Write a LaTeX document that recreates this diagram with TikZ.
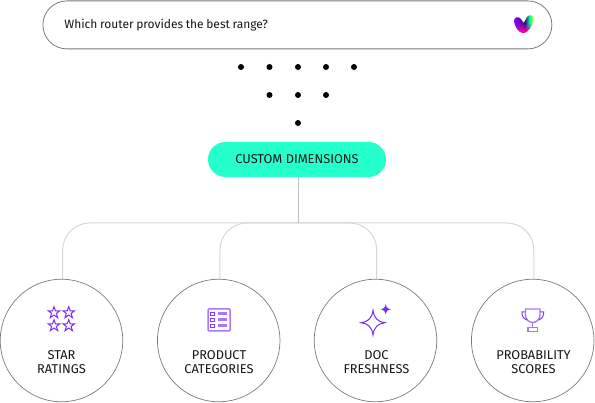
\documentclass[tikz,border=0pt]{standalone}
\usepackage{fontspec}
\setmainfont{Fira Sans}
\definecolor{violet}{HTML}{7A2BFF}
\definecolor{violetlt}{HTML}{A877FF}
\definecolor{mint}{HTML}{24FFCB}
\definecolor{ring}{HTML}{7A7A7A}
\definecolor{wire}{HTML}{D6D6D6}
\definecolor{ink}{HTML}{161616}
\definecolor{logoa}{HTML}{8A00FF}
\definecolor{logob}{HTML}{30107A}
\definecolor{logoc}{HTML}{E0F000}
\definecolor{logom}{HTML}{FF00B0}
\newcommand\tightwords{\spaceskip=2.6pt plus 1pt\relax}
\tikzset{
  query/.style={draw=ring,line width=.8pt,rounded corners=24pt,minimum height=48pt,text width=466pt,inner xsep=21.5pt,inner ysep=0pt,align=left,font=\fontsize{12}{14}\selectfont,text=ink,anchor=north west},
  hub/.style={fill=mint,rounded corners=17.5pt,minimum width=178pt,minimum height=35pt,inner sep=0pt,font=\fontsize{12.8}{14}\selectfont,text=ink},
  ball/.style={circle,draw=ring,line width=.7pt,minimum size=122.5pt,inner sep=0pt},
  caption/.style={align=center,font=\fontsize{12.8}{14}\selectfont,text=ink,inner sep=0pt},
  wirefaint/.style={draw=wire,line width=1pt,rounded corners=27pt},
  dot/.style={circle,fill=black,minimum size=6pt,inner sep=0pt},
  iconline/.style={draw=violet,line width=1pt,line join=miter},
  barlt/.style={fill=violetlt,draw=none},
}
\begin{document}
\begin{tikzpicture}[x=1pt,y=-1pt]
\useasboundingbox (0,0) rectangle (595,403);
\node[query] (q) at (42.5,.5) {\tightwords Which router provides the best range?};
\foreach \n/\x/\y in {a/241/67,b/269.5/67,c/298/67,d/326/67,e/354/67,f/269.5/95,g/298/95,h/326/95,i/298/123}
  \node[dot] (dot\n) at (\x,\y) {};
\node[hub] (cd) at (297,159.5) {\raisebox{-.8pt}{CUSTOM DIMENSIONS}};
\coordinate (jn) at (298.3,223);
\node[ball] (c1) at (61.5,340.5) {};
\node[ball] (c2) at (218.7,340.5) {};
\node[ball] (c3) at (375.5,340.5) {};
\node[ball] (c4) at (532.7,340.5) {};
\draw[wirefaint] ([xshift=1.2pt]c1.north) |- (jn);
\draw[wirefaint] ([xshift=1.2pt]c2.north) |- (jn);
\draw[wirefaint] ([xshift=1.2pt]c3.north) |- (jn);
\draw[wirefaint] ([xshift=1.2pt]c4.north) |- (jn);
\draw[draw=wire!90!black,line width=.8pt] (cd.south -| jn) -- (jn);
\node[caption] (t1) at (61.5,361.7) {STAR\\RATINGS};
\node[caption] (t2) at (219,361.7) {PRODUCT\\CATEGORIES};
\node[caption] (t3) at (376.5,361.7) {DOC\\FRESHNESS};
\node[caption] (t4) at (533.5,361.7) {PROBABILITY\\SCORES};
% logo
\begin{scope}
\clip (514,21) .. controls (514,17) and (518.5,16) .. (520.5,18.5) -- (523.8,23) -- (527,17) .. controls (529,14) and (533.5,15) .. (533.5,19) .. controls (533,25) and (528,33) .. (523.5,33) .. controls (519,33) and (514.5,27) .. (514,21) -- cycle;
\shade[left color=logoa,middle color=logob,right color=logob] (514,12) rectangle (525,36);
\shade[left color=logob,right color=logoc,middle color=cyan!60!green] (525,12) rectangle (534,36);
\foreach \i in {0,...,9}
  \fill[logom,opacity=\i*.12] (512,23+\i) rectangle (536,24+\i);
\fill[logom] (512,33) rectangle (536,36);
\end{scope}
% stars
\foreach \sx/\sy in {54/312.7,68.7/312.7,54/325.7,68.7/325.7}
  \draw[iconline] (\sx,\sy-6) -- ++(1.5,4.1) -- ++(4.3,0) -- ++(-3.4,2.6) -- ++(1.3,4.2) -- ++(-3.7,-2.5) -- ++(-3.7,2.5) -- ++(1.3,-4.2) -- ++(-3.4,-2.6) -- ++(4.3,0) -- cycle;
% list
\draw[draw=violetlt,line width=1.5pt,rounded corners=1pt] (208,309) rectangle (230,331);
\foreach \ly in {314,320,326}{
  \draw[draw=violet!80!violetlt,line width=.9pt] (210.8,\ly-1.9) rectangle (214.6,\ly+1.9);
  \fill[barlt] (218.3,\ly-1.5) rectangle (227.3,\ly+1.5);
}
% sparkles
\draw[iconline] (373,310.5) .. controls (374,318) and (378,322) .. (385,322.7) .. controls (378,323.5) and (374,327) .. (373,335) .. controls (372,327) and (368,323.5) .. (361,322.7) .. controls (368,322) and (372,318) .. (373,310.5) -- cycle;
\fill[violet] (385.7,304) .. controls (386.3,307.5) and (387.5,308.7) .. (391,309.3) .. controls (387.5,310) and (386.3,311) .. (385.7,314.6) .. controls (385,311) and (384,310) .. (380.5,309.3) .. controls (384,308.7) and (385,307.5) .. (385.7,304) -- cycle;
% trophy
\draw[draw=violetlt,line width=1.4pt] (525.5,309) -- (540,309) -- (540,315) .. controls (540,320) and (536,322.5) .. (532.7,322.5) .. controls (529.5,322.5) and (525.5,320) .. (525.5,315) -- cycle;
\draw[draw=violet!80!violetlt,line width=1pt] (525.5,312) -- (522,312) .. controls (522,316) and (523,318.5) .. (527,320);
\draw[draw=violet!80!violetlt,line width=1pt] (540,312) -- (543.7,312) .. controls (543.7,316) and (542.5,318.5) .. (538.5,320);
\draw[draw=violetlt,line width=1.4pt] (532.7,322.5) -- (532.7,327.5);
\draw[draw=violetlt,line width=1.4pt] (528,327.5) rectangle (537.5,331.5);
\end{tikzpicture}
\end{document}
